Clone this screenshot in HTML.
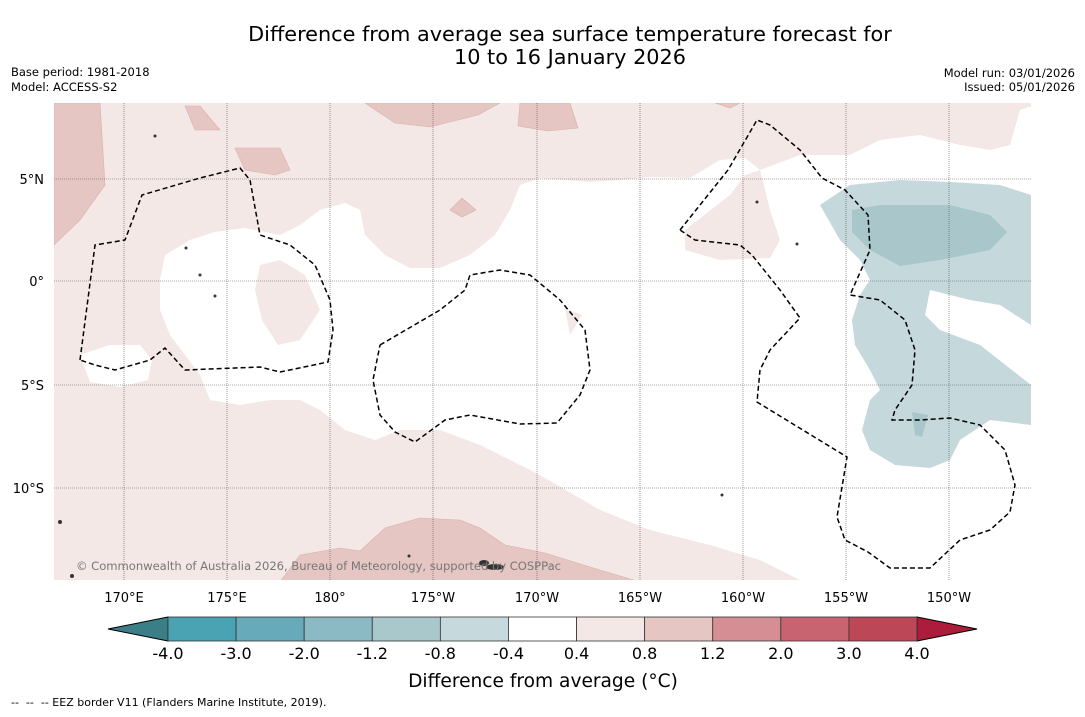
<!DOCTYPE html>
<html><head><meta charset="utf-8"><style>
body{margin:0;background:#fff;width:1085px;height:713px;overflow:hidden;font-family:"DejaVu Sans","Liberation Sans",sans-serif}
</style></head><body>
<svg width="1085" height="713" xmlns="http://www.w3.org/2000/svg" font-family="DejaVu Sans, Liberation Sans, sans-serif">
<rect width="1085" height="713" fill="#fff"/>
<text x="570" y="41" font-size="20.8" text-anchor="middle">Difference from average sea surface temperature forecast for</text>
<text x="570" y="64" font-size="20.8" text-anchor="middle">10 to 16 January 2026</text>
<text x="11" y="76" font-size="11.5">Base period: 1981-2018</text>
<text x="11" y="91" font-size="11.5">Model: ACCESS-S2</text>
<text x="1075" y="77" font-size="11.5" text-anchor="end">Model run: 03/01/2026</text>
<text x="1075" y="91" font-size="11.5" text-anchor="end">Issued: 05/01/2026</text>

<g>
<clipPath id="mc"><rect x="54" y="103" width="977" height="477"/></clipPath>
<g clip-path="url(#mc)">
<rect x="54" y="103" width="977" height="477" fill="#f4e8e7"/>
<path fill="#fff" d="M160,280 L165,255 190,240 215,232 245,228 280,235 300,225 320,210 345,203 360,210 365,235 385,255 410,268 440,268 470,255 495,235 510,210 520,185 540,178 590,182 620,180 650,177 690,178 720,160 745,158 760,170 800,155 850,155 880,140 920,135 960,145 990,150 1010,145 1020,110 1035,105 1035,580 800,580 760,560 710,545 650,530 600,510 540,475 510,460 480,445 440,430 400,430 375,440 345,430 320,410 300,400 270,400 240,405 210,400 200,375 185,355 170,335 160,310 Z"/>
<path fill="#f4e8e7" d="M685,230 L730,195 745,175 760,170 770,210 780,240 770,258 720,260 685,250 Z"/>
<path fill="#fff" d="M80,355 L110,345 140,345 152,360 148,380 120,387 90,382 Z"/>
<path fill="#f4e8e7" d="M260,265 L280,260 305,275 320,310 300,340 278,345 262,320 255,290 Z"/>
<path fill="#f4e8e7" d="M565,308 L582,315 570,335 Z"/>
<g fill="#e6c6c2" stroke="#d8b0ac" stroke-width="0.6">
<path d="M54,103 L100,103 105,185 80,220 54,245 Z"/>
<path d="M185,106 L200,106 220,130 195,130 Z"/>
<path d="M235,148 L280,148 290,170 275,175 245,170 Z"/>
<path d="M365,103 L500,103 478,115 430,127 395,123 Z"/>
<path d="M520,103 L570,103 578,128 548,131 518,126 Z"/>
<path d="M715,103 L740,103 730,108 Z"/>
<path d="M450,210 L462,198 476,210 462,217 Z"/>
<path d="M280,582 L300,555 340,548 360,551 385,528 420,518 460,520 480,528 505,545 545,553 600,570 640,582 Z"/>
</g>
<path fill="#c5d8db" d="M820,205 L850,185 900,180 950,182 1000,185 1031,195 1031,325 1000,305 970,300 930,290 925,315 940,330 980,345 1031,385 1031,425 990,420 960,440 950,460 930,468 895,465 870,450 862,430 870,400 880,390 870,370 855,345 852,320 860,295 870,280 860,260 840,240 Z"/>
<path fill="#a9c7cb" d="M852,210 L880,205 950,205 990,215 1007,232 990,250 940,260 900,266 870,250 852,232 Z"/>
<path fill="#a9c7cb" d="M912,412 L928,415 922,437 915,435 Z"/>
</g>
<g stroke="#555" stroke-width="0.6" stroke-dasharray="1,1">
<line x1="124" y1="103" x2="124" y2="580"/><line x1="227" y1="103" x2="227" y2="580"/><line x1="330" y1="103" x2="330" y2="580"/>
<line x1="433" y1="103" x2="433" y2="580"/><line x1="537" y1="103" x2="537" y2="580"/><line x1="640" y1="103" x2="640" y2="580"/>
<line x1="743" y1="103" x2="743" y2="580"/><line x1="846" y1="103" x2="846" y2="580"/><line x1="949" y1="103" x2="949" y2="580"/>
<line x1="54" y1="179" x2="1031" y2="179"/><line x1="54" y1="281" x2="1031" y2="281"/><line x1="54" y1="385" x2="1031" y2="385"/><line x1="54" y1="488" x2="1031" y2="488"/>
</g>
<g fill="none" stroke="#000" stroke-width="1.5" stroke-dasharray="5,3">
<path d="M80,360 L95,245 125,240 142,195 200,178 240,168 250,180 260,235 290,245 315,265 330,300 333,330 328,362 280,372 260,367 185,370 165,348 150,360 115,370 95,365 80,360"/>
<path d="M380,345 L440,310 465,290 470,275 500,270 530,275 560,300 585,330 590,370 580,395 557,423 520,424 470,415 445,420 415,442 395,432 380,415 373,380 380,345"/>
<path d="M680,230 L700,205 728,170 757,120 770,125 800,150 822,178 845,190 868,215 870,250 850,295 880,300 905,320 915,350 912,385 895,410 892,420 920,420 950,418 980,425 1005,450 1015,485 1010,512 990,530 960,540 930,568 890,568 868,552 845,540 837,517 847,457 757,402 760,370 770,350 800,318 780,290 752,255 740,245 695,240 680,230"/>
</g>
<g fill="#333">
<ellipse cx="495" cy="567" rx="9" ry="3"/><ellipse cx="484" cy="563" rx="5" ry="3"/><circle cx="60" cy="522" r="2"/><circle cx="72" cy="576" r="2"/>
<circle cx="200" cy="275" r="1.5"/><circle cx="215" cy="296" r="1.5"/><circle cx="757" cy="202" r="1.5"/><circle cx="797" cy="244" r="1.5"/>
<circle cx="155" cy="136" r="1.5"/><circle cx="186" cy="248" r="1.5"/><circle cx="409" cy="556" r="1.5"/><circle cx="722" cy="495" r="1.5"/>
</g>
<text x="76" y="570" font-size="11.6" fill="#777" textLength="485">© Commonwealth of Australia 2026, Bureau of Meteorology, supported by COSPPac</text>
</g>
<g font-size="13">
<text x="44" y="184" text-anchor="end">5°N</text><text x="44" y="286" text-anchor="end">0°</text>
<text x="44" y="390" text-anchor="end">5°S</text><text x="44" y="493" text-anchor="end">10°S</text>
<g text-anchor="middle">
<text x="124" y="602">170°E</text><text x="227" y="602">175°E</text><text x="330" y="602">180°</text>
<text x="433" y="602">175°W</text><text x="537" y="602">170°W</text><text x="640" y="602">165°W</text>
<text x="743" y="602">160°W</text><text x="846" y="602">155°W</text><text x="949" y="602">150°W</text></g>
</g>
<g id="cbar"></g>
<text x="543" y="687" font-size="18.6" text-anchor="middle">Difference from average (°C)</text>
<text x="11" y="706" font-size="11" xml:space="preserve" style="white-space:pre">--  --  -- EEZ border V11 (Flanders Marine Institute, 2019).</text>
</svg>
<script>
const tickLabels=["-4.0","-3.0","-2.0","-1.2","-0.8","-0.4","0.4","0.8","1.2","2.0","3.0","4.0"];
const binColors=["#4aa3b2","#67aab9","#8bb9c4","#a9c8cc","#c6d9dc","#ffffff","#f4e8e7","#e6c6c2","#d68e95","#c8646f","#bc4756"];
const extColors=["#3a7f88","#ad1c3a"];
const NS="http://www.w3.org/2000/svg";
const g=document.getElementById('cbar');
const x0=168,x1=917,y0=617,h=24,w=(x1-x0)/binColors.length;
function mk(t,a){const e=document.createElementNS(NS,t);for(const k in a)e.setAttribute(k,a[k]);g.appendChild(e);return e;}
const L=mk('polygon',{points:`${x0},${y0} ${x0},${y0+h} 108,${y0+h/2}`,fill:extColors[0],stroke:'#000','stroke-width':1});


const R=mk('polygon',{points:`${x1},${y0} ${x1},${y0+h} 977,${y0+h/2}`,fill:extColors[1],stroke:'#000','stroke-width':1});


binColors.forEach((c,i)=>{
  const r=mk('rect',{x:x0+i*w,y:y0,width:w,height:h,fill:c,stroke:'#333','stroke-width':0.8});
  
  
});
tickLabels.forEach((t,i)=>{
  const e=mk('text',{x:x0+i*w,y:659,'font-size':16,'text-anchor':'middle'});
  e.textContent=t;
  
  
});
</script>
</body></html>
